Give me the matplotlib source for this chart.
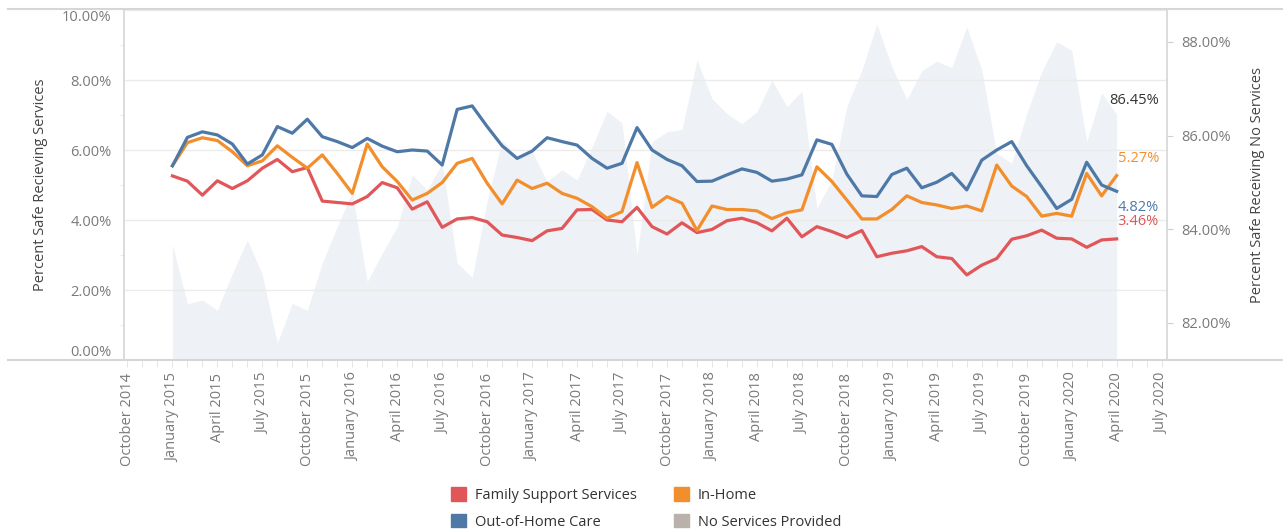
import matplotlib
matplotlib.use("Agg")
import matplotlib.pyplot as plt
from matplotlib.lines import Line2D
from matplotlib.patches import Patch
import numpy as np

# monthly values, January 2015 .. April 2020 (percent)
family_support = [5.26, 5.11, 4.71, 5.12, 4.90, 5.12, 5.48, 5.73, 5.38, 5.50,
                  4.54, 4.50, 4.46, 4.67, 5.07, 4.92, 4.31, 4.52, 3.79, 4.03,
                  4.07, 3.95, 3.57, 3.50, 3.41, 3.69, 3.76, 4.29, 4.30, 4.00,
                  3.95, 4.36, 3.81, 3.60, 3.92, 3.64, 3.73, 3.98, 4.05, 3.92,
                  3.69, 4.05, 3.52, 3.81, 3.67, 3.50, 3.70, 2.95, 3.05, 3.12,
                  3.24, 2.95, 2.90, 2.43, 2.71, 2.90, 3.45, 3.55, 3.71, 3.48,
                  3.46, 3.22, 3.43, 3.46]
in_home = [5.55, 6.21, 6.35, 6.27, 5.95, 5.55, 5.69, 6.12, 5.79, 5.48,
           5.86, 5.33, 4.76, 6.17, 5.52, 5.10, 4.57, 4.76, 5.07, 5.62,
           5.76, 5.05, 4.46, 5.14, 4.90, 5.05, 4.76, 4.62, 4.38, 4.05,
           4.24, 5.64, 4.36, 4.67, 4.48, 3.70, 4.40, 4.30, 4.30, 4.26,
           4.04, 4.21, 4.29, 5.52, 5.10, 4.57, 4.03, 4.03, 4.30, 4.69,
           4.50, 4.43, 4.33, 4.40, 4.26, 5.57, 4.97, 4.67, 4.11, 4.19,
           4.11, 5.33, 4.69, 5.27]
out_of_home = [5.55, 6.36, 6.52, 6.43, 6.17, 5.60, 5.86, 6.67, 6.48, 6.88,
               6.38, 6.24, 6.07, 6.33, 6.11, 5.95, 6.00, 5.97, 5.57, 7.16,
               7.26, 6.67, 6.12, 5.76, 5.97, 6.35, 6.24, 6.14, 5.76, 5.48,
               5.62, 6.64, 6.00, 5.73, 5.55, 5.10, 5.11, 5.29, 5.46, 5.36,
               5.11, 5.17, 5.29, 6.29, 6.16, 5.31, 4.69, 4.67, 5.30, 5.48,
               4.92, 5.08, 5.33, 4.86, 5.71, 6.00, 6.24, 5.55, 4.95, 4.33,
               4.59, 5.65, 5.00, 4.82]
no_services = [83.67, 82.41, 82.49, 82.27, 83.06, 83.77, 83.03, 81.57, 82.42, 82.27,
               83.28, 84.06, 84.80, 82.88, 83.49, 84.05, 85.16, 84.84, 85.41, 83.28,
               82.97, 84.60, 85.90, 85.55, 85.66, 85.02, 85.27, 85.05, 85.76, 86.52,
               86.27, 83.45, 85.87, 86.08, 86.13, 87.61, 86.79, 86.47, 86.25, 86.51,
               87.18, 86.62, 86.95, 84.45, 85.05, 86.62, 87.40, 88.38, 87.47, 86.77,
               87.38, 87.59, 87.45, 88.32, 87.40, 85.62, 85.41, 86.47, 87.36, 88.00,
               87.82, 85.87, 86.91, 86.45]

quarter_labels = ["October 2014", "January 2015", "April 2015", "July 2015",
                  "October 2015", "January 2016", "April 2016", "July 2016",
                  "October 2016", "January 2017", "April 2017", "July 2017",
                  "October 2017", "January 2018", "April 2018", "July 2018",
                  "October 2018", "January 2019", "April 2019", "July 2019",
                  "October 2019", "January 2020", "April 2020", "July 2020"]

RED = "#e15759"
ORANGE = "#f28e2b"
BLUE = "#4e79a7"
GREY = "#bab0ac"
AREA = "#eef1f6"
TICK = "#7a7a7a"
plt.rcParams["font.family"] = ["Open Sans", "DejaVu Sans"]

W, H = 1283, 532
fig = plt.figure(figsize=(W / 100, H / 100), dpi=100)
ax = fig.add_axes([124 / W, 1 - 360 / H, (1167 - 124) / W, 350 / H])
ax2 = ax.twinx()
ax.set_zorder(ax2.get_zorder() + 1)
ax.patch.set_visible(False)

x = np.arange(len(family_support))

# area on the right axis
ax2.fill_between(x, 80, no_services, color=AREA, lw=0)
ax2.set_ylim(81.21, 88.68)
ax2.set_yticks([82, 84, 86, 88])
ax2.set_yticklabels(["82.00%", "84.00%", "86.00%", "88.00%"])
ax2.tick_params(axis="y", length=4, width=0.8, color="#d0d0d0", labelcolor=TICK,
                labelsize=10.5, pad=6)
ax2.set_ylabel("Percent Safe Receiving No Services", fontsize=10.5, color="#444444",
               labelpad=14)

# lines on the left axis
ax.plot(x, family_support, color=RED, lw=2.3, solid_joinstyle="round")
ax.plot(x, in_home, color=ORANGE, lw=2.3, solid_joinstyle="round")
ax.plot(x, out_of_home, color=BLUE, lw=2.3, solid_joinstyle="round")

ax.set_ylim(0, 10)
ax.set_yticks([0, 2, 4, 6, 8, 10])
ax.set_yticklabels(["0.00%", "2.00%", "4.00%", "6.00%", "8.00%", "10.00%"])
ax.set_yticks([1, 3, 5, 7, 9], minor=True)
ax.tick_params(axis="y", which="major", length=0, labelcolor=TICK, labelsize=10.5, pad=9)
ax.tick_params(axis="y", which="minor", length=3, width=0.6, color="#e6e6e6")
ylabs = ax.get_yticklabels()
ylabs[0].set_verticalalignment("bottom")
ylabs[-1].set_verticalalignment("top")
ax.grid(axis="y", which="major", color="#ebebeb", lw=1)
ax.set_ylabel("Percent Safe Recieving Services", fontsize=10.5, color="#444444",
              labelpad=10)

ax.set_xlim(-3.23, 66.36)
ax.set_xticks(np.arange(-3, 67, 3))
ax.set_xticklabels(quarter_labels, rotation=90)
ax.set_xticks(np.arange(-3, 67, 1), minor=True)
ax.tick_params(axis="x", which="both", length=5, width=0.6, color="#e0e0e0",
               labelcolor=TICK, labelsize=10.5, pad=4)

for a in (ax, ax2):
    for s in a.spines.values():
        s.set_visible(False)
for sx in (124, 1167):
    fig.add_artist(Line2D([sx / W, sx / W], [1 - 9 / H, 1 - 360 / H],
                          color="#d6d6d6", lw=1.2))
for sy in (9, 360):
    fig.add_artist(Line2D([8 / W, 1], [1 - sy / H, 1 - sy / H], color="#d6d6d6", lw=1.5))

# end labels
last = len(x) - 1
ax2.annotate(f"{no_services[-1]:.2f}%", (last, no_services[-1]), xytext=(-7, 14),
             textcoords="offset pixels", ha="left", va="center", fontsize=10.5,
             color="#333333")
ax.annotate(f"{in_home[-1]:.2f}%", (last, in_home[-1]), xytext=(1, 17),
            textcoords="offset pixels", ha="left", va="center", fontsize=10.5, color=ORANGE)
ax.annotate(f"{out_of_home[-1]:.2f}%", (last, out_of_home[-1]), xytext=(1, -16),
            textcoords="offset pixels", ha="left", va="center", fontsize=10.5, color=BLUE)
ax.annotate(f"{family_support[-1]:.2f}%", (last, family_support[-1]), xytext=(1, 17),
            textcoords="offset pixels", ha="left", va="center", fontsize=10.5, color=RED)

handles = [Patch(color=RED, label="Family Support Services"),
           Patch(color=BLUE, label="Out-of-Home Care"),
           Patch(color=ORANGE, label="In-Home"),
           Patch(color=GREY, label="No Services Provided")]
fig.legend(handles=handles, ncol=2, loc="upper left", bbox_to_anchor=(438 / W, 1 - 474 / H),
           frameon=False, fontsize=10.5, handlelength=1.05, handleheight=1.05,
           handletextpad=0.6, columnspacing=2.5, labelspacing=0.75, labelcolor="#333333")

fig.savefig("out.png", dpi=100)
